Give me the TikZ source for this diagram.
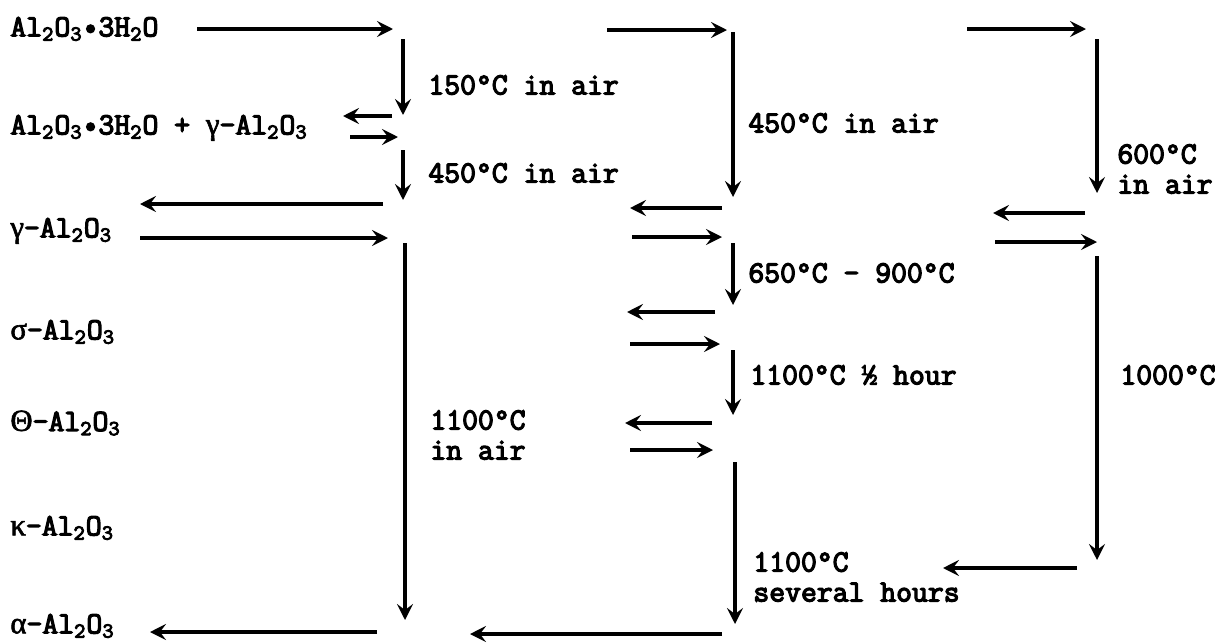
\documentclass[tikz,border=0pt]{standalone}
\usepackage{fontspec}
\usetikzlibrary{arrows.meta}
\newfontfamily\typer{Latin Modern Mono}[FakeBold=4]
\newfontfamily\grk{Liberation Serif}[FakeBold=2]
\newcommand\lo[1]{\textsubscript{#1}}
\newcommand\gk[1]{{\grk #1}}
\tikzset{
  lbl/.style={anchor=west, inner sep=0pt, align=left,
    font=\typer\fontsize{15.4}{15}\selectfont},
  arr/.style={line width=1.6pt, -{Stealth[length=8pt,width=8pt,inset=3pt]}}
}
\begin{document}
\begin{tikzpicture}[x=0.5pt, y=-0.5pt]
    \useasboundingbox (0,0) rectangle (1222,643);

    % Phases on the left
    \node[lbl] (hyd)  at (10,29)  {Al\lo{2}O\lo{3}•3H\lo{2}O};
    \node[lbl] (mix)  at (10,128) {Al\lo{2}O\lo{3}•3H\lo{2}O + \gk{γ}-Al\lo{2}O\lo{3}};
    \node[lbl] (gam)  at (10,231) {\gk{γ}-Al\lo{2}O\lo{3}};
    \node[lbl] (sig)  at (10,332) {\gk{σ}-Al\lo{2}O\lo{3}};
    \node[lbl] (the)  at (10,423) {\gk{Θ}-Al\lo{2}O\lo{3}};
    \node[lbl] (kap)  at (10,528) {\gk{κ}-Al\lo{2}O\lo{3}};
    \node[lbl] (alp)  at (10,626) {\gk{α}-Al\lo{2}O\lo{3}};

    % First route
    \coordinate (p1a) at (197,29);  \coordinate (p1b) at (393,29);
    \coordinate (p2a) at (403,39);  \coordinate (p2b) at (403,115);
    \coordinate (p3a) at (392,116); \coordinate (p3b) at (343,116);
    \coordinate (p4a) at (350,137); \coordinate (p4b) at (398,137);
    \coordinate (p5a) at (403,150); \coordinate (p5b) at (403,200);
    \coordinate (p6a) at (383,204); \coordinate (p6b) at (140,204);
    \coordinate (p7a) at (140,238); \coordinate (p7b) at (388,238);
    \coordinate (p8a) at (405,243); \coordinate (p8b) at (405,620);
    \coordinate (p9a) at (377,632); \coordinate (p9b) at (150,632);
    \foreach \i in {1,...,9} \draw[arr] (p\i a) -- (p\i b);
    \node[lbl] (t150) at (428,85)  {150°C in air};
    \node[lbl] (t450) at (428,173) {450°C in air};
    \node[lbl] (t11a) at (430,435) {1100°C\\in air};

    % Second route
    \coordinate (q1a) at (607,30);  \coordinate (q1b) at (727,30);
    \coordinate (q2a) at (733,32);  \coordinate (q2b) at (733,197);
    \coordinate (q3a) at (722,208); \coordinate (q3b) at (630,208);
    \coordinate (q4a) at (632,237); \coordinate (q4b) at (722,237);
    \coordinate (q5a) at (733,243); \coordinate (q5b) at (733,305);
    \coordinate (q6a) at (715,312); \coordinate (q6b) at (627,312);
    \coordinate (q7a) at (630,344); \coordinate (q7b) at (720,344);
    \coordinate (q8a) at (733,350); \coordinate (q8b) at (733,415);
    \coordinate (q9a) at (712,423); \coordinate (q9b) at (625,423);
    \coordinate (q10a) at (630,450); \coordinate (q10b) at (713,450);
    \coordinate (q11a) at (735,462); \coordinate (q11b) at (735,624);
    \coordinate (q12a) at (722,634); \coordinate (q12b) at (470,634);
    \foreach \i in {1,...,12} \draw[arr] (q\i a) -- (q\i b);
    \node[lbl] (u450) at (748,123) {450°C in air};
    \node[lbl] (u650) at (748,273) {650°C - 900°C};
    \node[lbl] (u11h) at (750,375) {1100°C ½ hour};
    \node[lbl] (u11s) at (753,577) {1100°C\\several hours};

    % Third route
    \coordinate (r1a) at (967,29);   \coordinate (r1b) at (1086,29);
    \coordinate (r2a) at (1097,39);  \coordinate (r2b) at (1097,193);
    \coordinate (r3a) at (1085,213); \coordinate (r3b) at (993,213);
    \coordinate (r4a) at (995,242);  \coordinate (r4b) at (1097,242);
    \coordinate (r5a) at (1097,256); \coordinate (r5b) at (1097,560);
    \coordinate (r6a) at (1077,568); \coordinate (r6b) at (943,568);
    \foreach \i in {1,...,6} \draw[arr] (r\i a) -- (r\i b);
    \node[lbl] (v600) at (1117,169) {600°C\\in air};
    \node[lbl] (v100) at (1120,375) {1000°C};
\end{tikzpicture}
\end{document}
